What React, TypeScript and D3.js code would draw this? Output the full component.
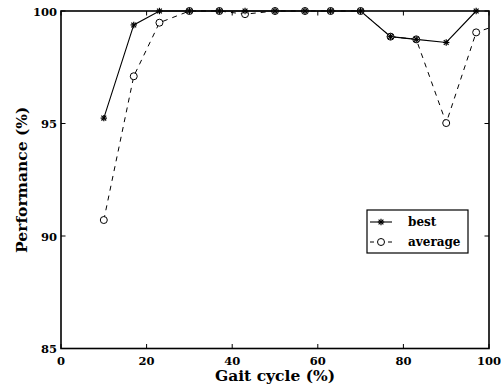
import React from "react";
import * as d3 from "d3";

const gaitCycle = [10, 17, 23, 30, 37, 43, 50, 57, 63, 70, 77, 83, 90, 97];
const bestValues = [95.24, 99.38, 100, 100, 100, 100, 100, 100, 100, 100, 98.86, 98.74, 98.6, 100];
const averageValues = [90.71, 97.1, 99.48, 100, 100, 99.86, 100, 100, 100, 100, 98.86, 98.74, 95.02, 99.05];
// trailing average point lies beyond the axis and is clipped
const averageTailX = [97, 104];
const averageTailY = [99.05, 99.5];
const xTicks = [0, 20, 40, 60, 80, 100];
const yTicks = [85, 90, 95, 100];
const legendLabels = ["best", "average"];

const W = 501, H = 387;
const M = { left: 61, right: 12, top: 11, bottom: 38.5 };

export default function App() {
  const x = d3.scaleLinear().domain([0, 100]).range([M.left, W - M.right]);
  const y = d3.scaleLinear().domain([85, 100]).range([H - M.bottom, M.top]);
  const line = d3.line<[number, number]>().x(d => x(d[0])).y(d => y(d[1]));
  const best = gaitCycle.map((g, i) => [g, bestValues[i]] as [number, number]);
  const avg = gaitCycle.map((g, i) => [g, averageValues[i]] as [number, number]);
  const tail = averageTailX.map((g, i) => [g, averageTailY[i]] as [number, number]);
  const font = "'DejaVu Serif', serif";
  const x0 = x(0), x1 = x(100), y0 = y(85), y1 = y(100);

  const star = (cx: number, cy: number, k: string) => {
    const r = 3.2;
    return (
      <g key={k} stroke="#000" strokeWidth={1.2}>
        <line x1={cx - r} y1={cy} x2={cx + r} y2={cy} />
        <line x1={cx} y1={cy - r} x2={cx} y2={cy + r} />
        <line x1={cx - r * 0.75} y1={cy - r * 0.75} x2={cx + r * 0.75} y2={cy + r * 0.75} />
        <line x1={cx - r * 0.75} y1={cy + r * 0.75} x2={cx + r * 0.75} y2={cy - r * 0.75} />
      </g>
    );
  };
  const circ = (cx: number, cy: number, k: string) => (
    <circle key={k} cx={cx} cy={cy} r={3.5} fill="#fff" stroke="#000" strokeWidth={1} />
  );

  const lgX = 367, lgY = 210, lgW = 101, lgH = 43;

  return (
    <svg width={W} height={H} style={{ position: "absolute", left: 0, top: 0, background: "#fff" }}>
      <defs>
        <clipPath id="plotClip">
          <rect x={x0} y={y1 - 6} width={x1 - x0} height={y0 - y1 + 6} />
        </clipPath>
      </defs>
      <rect x={0} y={0} width={W} height={H} fill="#fff" />
      {/* ticks */}
      {xTicks.map(t => (
        <g key={"xt" + t} stroke="#000" strokeWidth={1}>
          <line x1={x(t)} x2={x(t)} y1={y0} y2={y0 - 4.5} />
          <line x1={x(t)} x2={x(t)} y1={y1} y2={y1 + 4.5} />
        </g>
      ))}
      {yTicks.map(t => (
        <g key={"yt" + t} stroke="#000" strokeWidth={1}>
          <line x1={x0} x2={x0 + 4.5} y1={y(t)} y2={y(t)} />
          <line x1={x1} x2={x1 - 4.5} y1={y(t)} y2={y(t)} />
        </g>
      ))}
      <g clipPath="url(#plotClip)">
        <path d={line(avg) || ""} fill="none" stroke="#000" strokeWidth={1} strokeDasharray="5,5" />
        <path d={line(tail) || ""} fill="none" stroke="#000" strokeWidth={1} strokeDasharray="5,5" strokeDashoffset={2} />
        <path d={line(best) || ""} fill="none" stroke="#000" strokeWidth={1.1} />
      </g>
      {avg.map((d, i) => circ(x(d[0]), y(d[1]), "c" + i))}
      {best.map((d, i) => star(x(d[0]), y(d[1]), "s" + i))}
      {/* box */}
      <rect x={x0} y={y1} width={x1 - x0} height={y0 - y1} fill="none" stroke="#000" strokeWidth={1.6} />
      {/* tick labels */}
      {xTicks.map(t => (
        <text key={"xl" + t} x={x(t)} y={y0 + 16} textAnchor="middle" fontFamily={font} fontWeight="bold" fontSize={11.5}>{t}</text>
      ))}
      {yTicks.map(t => (
        <text key={"yl" + t} x={x0 - 4} y={y(t) + 4.5} textAnchor="end" fontFamily={font} fontWeight="bold" fontSize={11.5}>{t}</text>
      ))}
      {/* axis titles */}
      <text x={(x0 + x1) / 2} y={381} textAnchor="middle" fontFamily={font} fontWeight="bold" fontSize={15.5}>Gait cycle (%)</text>
      <text transform={`translate(27,${(y0 + y1) / 2}) rotate(-90)`} textAnchor="middle" fontFamily={font} fontWeight="bold" fontSize={15.5}>Performance (%)</text>
      {/* legend */}
      <rect x={lgX} y={lgY} width={lgW} height={lgH} fill="#fff" stroke="#000" strokeWidth={1.2} />
      <line x1={lgX + 3} x2={lgX + 25} y1={lgY + 12} y2={lgY + 12} stroke="#000" strokeWidth={1.1} />
      {star(lgX + 14, lgY + 12, "ls")}
      <line x1={lgX + 3} x2={lgX + 25} y1={lgY + 32} y2={lgY + 32} stroke="#000" strokeWidth={1} strokeDasharray="4,5" />
      {circ(lgX + 14, lgY + 32, "lc")}
      <text x={lgX + 41} y={lgY + 16} fontFamily={font} fontWeight="bold" fontSize={12}>{legendLabels[0]}</text>
      <text x={lgX + 41} y={lgY + 36} fontFamily={font} fontWeight="bold" fontSize={12}>{legendLabels[1]}</text>
    </svg>
  );
}
